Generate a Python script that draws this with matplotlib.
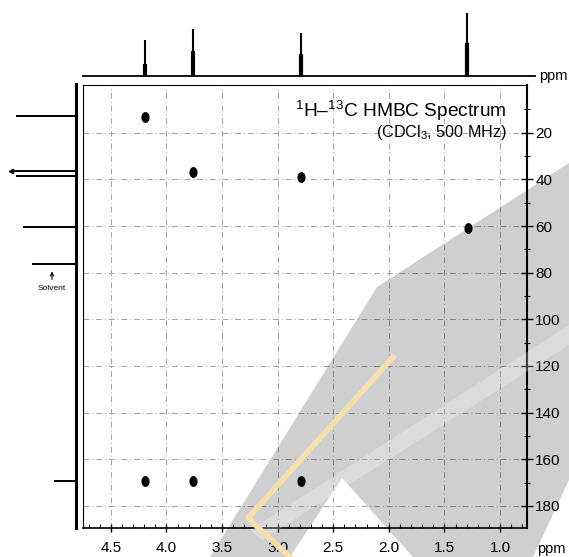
import matplotlib
matplotlib.use("Agg")
import matplotlib.pyplot as plt
import numpy as np
from matplotlib.markers import MarkerStyle
from matplotlib.patches import Polygon
from matplotlib.transforms import Affine2D

plt.rcParams['font.family'] = ['Liberation Sans', 'DejaVu Sans']
plt.rcParams['mathtext.fontset'] = 'custom'
plt.rcParams['mathtext.rm'] = 'Liberation Sans'
plt.rcParams['mathtext.it'] = 'Liberation Sans:italic'

# 1H projection (top): shift, peak height, height of the broad base
h_shift = [4.19, 3.76, 2.79, 1.29]
h_height = [36, 47, 43, 63]
h_base = [12, 25, 22, 33]

# 13C projection (left): shift, peak length
c_shift = [13.3, 36.8, 38.9, 60.8, 76.5, 169.3]
c_length = [60, 65, 60, 53, 44, 22]

# HMBC cross peaks (1H ppm, 13C ppm)
cross_h = [4.19, 3.76, 2.79, 1.29, 4.19, 3.76, 2.79]
cross_c = [13.3, 36.8, 38.9, 60.8, 169.3, 169.3, 169.3]

x_ticks = [4.5, 4.0, 3.5, 3.0, 2.5, 2.0, 1.5, 1.0]
y_ticks = [20, 40, 60, 80, 100, 120, 140, 160, 180]

W, H = 569, 557
def box(x0, y0, x1, y1):
    return [x0 / W, 1 - y1 / H, (x1 - x0) / W, (y1 - y0) / H]

fig = plt.figure(figsize=(W / 100, H / 100), dpi=100)

# main 2D panel
ax = fig.add_axes(box(83, 85, 527, 528))
ax.set_xlim(4.75, 0.757)
ax.set_ylim(189.5, -0.5)
ax.set_xticks(x_ticks)
ax.set_xticklabels([f"{v:.1f}" for v in x_ticks])
ax.set_xticks(np.arange(0.8, 4.75, 0.1), minor=True)
ax.set_yticks(y_ticks)
ax.set_yticks(np.arange(10, 190, 10), minor=True)
ax.yaxis.tick_right()
ax.tick_params(axis='x', which='major', direction='inout', length=6, width=1, labelsize=11, pad=6)
ax.tick_params(axis='x', which='minor', direction='in', length=3, width=0.8)
ax.tick_params(axis='y', which='major', direction='inout', length=8, width=1, labelsize=11, pad=2)
ax.tick_params(axis='y', which='minor', direction='inout', length=4, width=0.8)
ax.grid(True, which='major', color='#a2a2a2', lw=0.7, ls=(0, (6, 3, 1, 3)))
for s in ['left', 'top']:
    ax.spines[s].set_linewidth(0.8)
ax.spines['right'].set_linewidth(1.5)
ax.spines['bottom'].set_linewidth(1.2)

marker = MarkerStyle('o', transform=Affine2D().scale(0.75, 1.05))
ax.scatter(cross_h, cross_c, s=42, marker=marker, color='black', zorder=3)

ax.text(0.955, 0.941, r"$^{1}$H–$^{13}$C HMBC Spectrum", transform=ax.transAxes,
        ha='right', va='center', fontsize=13.8)
ax.text(0.955, 0.892, r"(CDCl$_3$, 500 MHz)", transform=ax.transAxes,
        ha='right', va='center', fontsize=11.6)

# top 1H projection
axt = fig.add_axes(box(83, 4, 535, 76))
axt.set_xlim(4.75, 4.75 - 452 / 111.1)
axt.set_ylim(0, 72)
axt.axis('off')
axt.axhline(0, color='black', lw=1.3, clip_on=False)
axt.vlines(h_shift, 0, h_height, color='black', lw=1.5)
axt.vlines(h_shift, 0, h_base, color='black', lw=3)

# left 13C projection
axl = fig.add_axes(box(8, 84, 77, 528))
axl.set_xlim(68, -1)
axl.set_ylim(189.5, -0.5)
axl.axis('off')
axl.axvline(0, color='black', lw=2.2, clip_on=False)
axl.hlines(c_shift, 0, c_length, color='black', lw=1.4)
axl.plot([c_length[1]], [c_shift[1]], marker='<', ms=3, color='black')
axl.annotate('Solvent', xy=(24, 78.5), xytext=(24, 87), ha='center', va='center',
             fontsize=6, arrowprops=dict(arrowstyle='->', lw=0.8, color='black'))

fig.text(551 / W, 1 - 549 / H, 'ppm', ha='center', va='center', fontsize=10.5)
fig.text(553 / W, 1 - 76 / H, 'ppm', ha='center', va='center', fontsize=10.5)

# scan artefact overlay (gray watermark and yellow stroke)
def px(pts):
    return [(x / W, 1 - y / H) for x, y in pts]

shade = Polygon(px([(210, 557), (377, 287), (569, 163), (569, 480), (533, 557),
                    (413, 557), (342, 478), (290, 557)]),
                closed=True, transform=fig.transFigure, facecolor='black',
                alpha=0.19, edgecolor='none', zorder=10)
fig.patches.append(shade)
band = Polygon(px([(250, 530), (569, 325), (569, 345), (262, 540)]),
               closed=True, transform=fig.transFigure, facecolor='white',
               alpha=0.25, edgecolor='none', zorder=11)
fig.patches.append(band)
stroke = plt.Line2D([393 / W, 248 / W, 290 / W], [1 - 357 / H, 1 - 518 / H, 1 - 557 / H],
                    transform=fig.transFigure, color='#f6dfae', lw=4, zorder=12)
fig.lines.append(stroke)

fig.savefig('out.png', dpi=100)
